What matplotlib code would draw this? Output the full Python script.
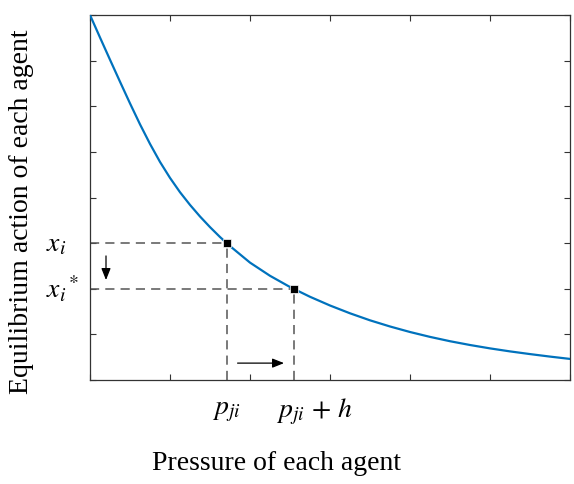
import numpy as np
import matplotlib.pyplot as plt

plt.rcParams['mathtext.fontset'] = 'stix'

# curve (x in tick units 0..6, y in tick units 0..8)
pressure = [0, 0.125, 0.25, 0.375, 0.5, 0.625, 0.75, 0.875, 1.0, 1.125, 1.25, 1.375,
            1.5, 1.625, 1.75, 2.0, 2.25, 2.5, 2.75, 3.0, 3.25, 3.5, 3.75, 4.0,
            4.25, 4.5, 4.75, 5.0, 5.25, 5.5, 5.75, 6.0]
action = [8.0, 7.507, 7.02, 6.538, 6.063, 5.604, 5.175, 4.78, 4.43, 4.116, 3.838, 3.584,
          3.351, 3.134, 2.935, 2.573, 2.284, 2.038, 1.824, 1.633, 1.462, 1.308, 1.173,
          1.052, 0.945, 0.85, 0.767, 0.693, 0.627, 0.568, 0.513, 0.462]

p_ji, p_jih = 1.71, 2.55
x_i, x_i_star = 3.0, 2.0

fig = plt.figure(figsize=(5.74, 4.84), dpi=100)
ax = fig.add_axes([90/574, 104/484, 480/574, 365/484])

ax.plot(pressure, action, color='#0072BD', lw=1.6, zorder=3)

dash = dict(color='#555555', lw=1.1, dashes=(6, 4), zorder=2)
ax.plot([0, p_ji], [x_i, x_i], **dash)
ax.plot([p_ji, p_ji], [0, x_i], **dash)
ax.plot([0, p_jih], [x_i_star, x_i_star], **dash)
ax.plot([p_jih, p_jih], [0, x_i_star], **dash)

ax.plot([p_ji, p_jih], [x_i, x_i_star], 's', color='black', ms=5.5,
        mec='white', mew=0.5, zorder=4)

arr = dict(arrowstyle='-|>,head_length=0.7,head_width=0.28', color='black', lw=0.9)
ax.annotate('', xy=(0.2, x_i_star + 0.13), xytext=(0.2, x_i - 0.22), arrowprops=arr)
ax.annotate('', xy=(p_jih - 0.09, 0.37), xytext=(p_ji + 0.1, 0.37), arrowprops=arr)

ax.set_xlim(0, 6)
ax.set_ylim(0, 8)
ax.set_xticks(np.arange(0, 7))
ax.set_yticks(np.arange(0, 9))
ax.set_xticklabels([])
ax.set_yticklabels([])
ax.tick_params(direction='in', length=4, width=0.8, color='#333333',
               top=True, right=True)
for sp in ax.spines.values():
    sp.set_color('#333333')
    sp.set_linewidth(0.9)

# labels at points of interest
trans = ax.get_xaxis_transform()
ax.text(p_ji, -0.045, r'$p_{ji}$', transform=trans, ha='center', va='top', fontsize=20)
ax.annotate(r'$p_{ji}\,+\,h$', xy=(p_jih, -0.045), xycoords=trans, xytext=(-13, 0),
            textcoords='offset points', ha='left', va='top', fontsize=20)
ax.annotate(r'$x_i$', xy=(0, x_i), xytext=(-32, 0), textcoords='offset points',
            ha='left', va='center', fontsize=20)
ax.annotate(r'$x_i{}^*$', xy=(0, x_i_star), xytext=(-32, 0), textcoords='offset points',
            ha='left', va='center', fontsize=20)

fig.text(276/574, 1 - 463/484, 'Pressure of each agent', ha='center', va='center',
         fontsize=20, family='Liberation Serif')
fig.text(22/574, 1 - 212/484, 'Equilibrium action of each agent', ha='center',
         va='center', rotation=90, fontsize=20, family='Liberation Serif')

fig.savefig('out.png', dpi=100)
